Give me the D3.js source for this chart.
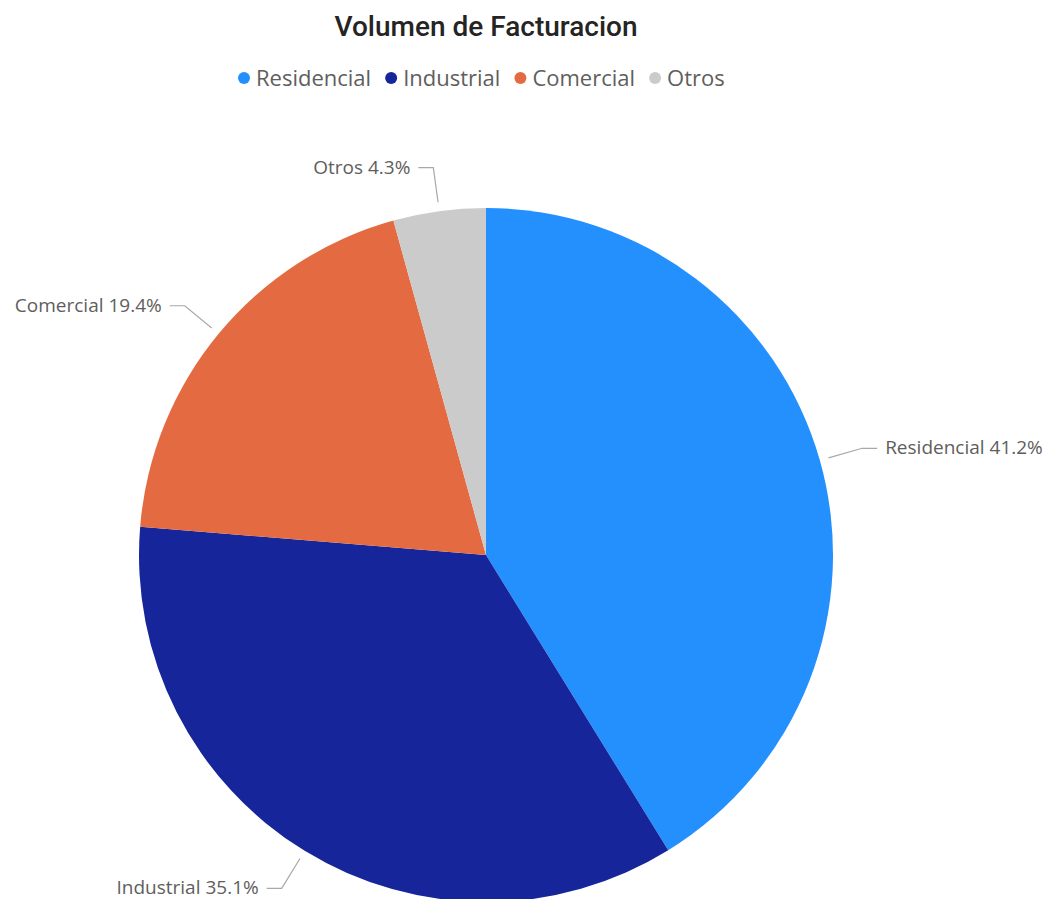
<!DOCTYPE html>
<html>
<head>
<meta charset="utf-8">
<script src="https://cdn.jsdelivr.net/npm/d3@7"></script>
<style>
  html, body { margin: 0; padding: 0; background: #ffffff; }
  svg { display: block; }
</style>
</head>
<body>
<svg id="chart" width="1048" height="899"></svg>
<script>
// Billing volume share by customer segment
const categories = ["Residencial", "Industrial", "Comercial", "Otros"];
const shares = [41.2, 35.1, 19.4, 4.3];
const colors = ["#2490FD", "#16259A", "#E46B41", "#CBCBCB"];
const title = "Volumen de Facturacion";

const width = 1048, height = 899;
const cx = 486, cy = 555, radius = 347;

const svg = d3.select("#chart");

svg.append("text")
  .attr("x", 486).attr("y", 36)
  .attr("text-anchor", "middle")
  .style("font-family", "Roboto, 'DejaVu Sans', sans-serif")
  .style("font-weight", "500")
  .style("font-size", "28px")
  .style("fill", "#252423")
  .text(title);

// Legend
const color = d3.scaleOrdinal().domain(categories).range(colors);
const legend = svg.append("g").attr("transform", "translate(0,78)");
let lx = 238;
categories.forEach(c => {
  const g = legend.append("g");
  g.append("circle").attr("cx", lx + 6).attr("cy", 0).attr("r", 6).attr("fill", color(c));
  const t = g.append("text")
    .attr("x", lx + 18).attr("y", 8)
    .style("font-family", "'Open Sans', sans-serif")
    .style("font-size", "22px")
    .style("fill", "#605E5C")
    .text(c);
  lx += 18 + t.node().getComputedTextLength() + 14;
});

// Pie
const pie = d3.pie().sort(null).value(d => d.v);
const data = pie(categories.map((c, i) => ({ c, v: shares[i] })));
const arc = d3.arc().innerRadius(0).outerRadius(radius);

const g = svg.append("g").attr("transform", `translate(${cx},${cy})`);
g.selectAll("path.slice")
  .data(data)
  .join("path")
  .attr("class", "slice")
  .attr("d", arc)
  .attr("fill", d => color(d.data.c));

// Leader lines and labels
const r1 = radius + 9, r2 = radius + 44, hook = 15;
data.forEach(d => {
  const a = (d.startAngle + d.endAngle) / 2;
  const p1 = [Math.sin(a) * r1, -Math.cos(a) * r1];
  const p2 = [Math.sin(a) * r2, -Math.cos(a) * r2];
  const right = Math.sin(a) >= 0;
  const p3 = [p2[0] + (right ? hook : -hook), p2[1]];
  g.append("polyline")
    .attr("points", [p1, p2, p3].map(p => p.join(",")).join(" "))
    .attr("fill", "none")
    .attr("stroke", "#A8A8A8")
    .attr("stroke-width", 1.2);
  g.append("text")
    .attr("x", p3[0] + (right ? 8 : -8))
    .attr("y", p3[1] + 6)
    .attr("text-anchor", right ? "start" : "end")
    .style("font-family", "'Open Sans', sans-serif")
    .style("font-size", "19px")
    .style("fill", "#605E5C")
    .text(`${d.data.c} ${d3.format(".1f")(d.data.v)}%`);
});
</script>
</body>
</html>
